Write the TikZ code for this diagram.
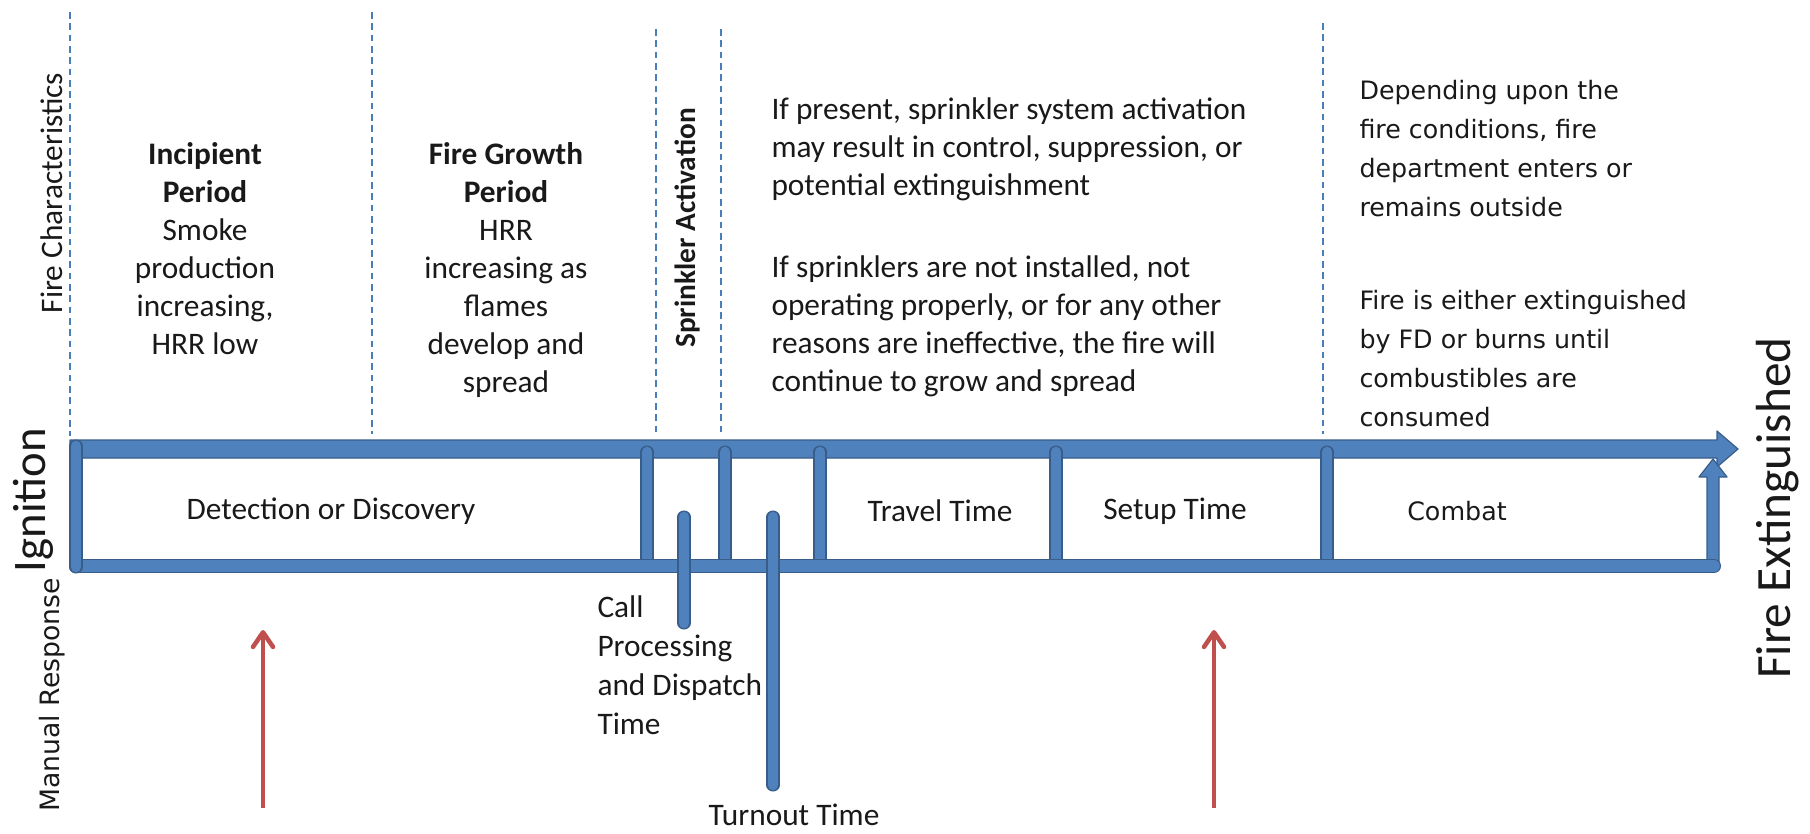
\documentclass[tikz,border=0pt]{standalone}
\usepackage{fontspec}
\setmainfont{Carlito}
\newfontfamily\verdana{DejaVu Sans}
\usetikzlibrary{arrows.meta}

\definecolor{barblue}{RGB}{79,129,189}
\definecolor{bardark}{RGB}{56,93,138}
\definecolor{guideblue}{RGB}{74,126,187}
\definecolor{markred}{RGB}{192,80,77}
\definecolor{ink}{RGB}{25,25,25}

\tikzset{every picture/.style={line width=0.75pt},
  bar/.style={draw=bardark, line width=0.9pt, double=barblue, double distance=#1, line cap=round},
  bar/.default=8pt,
  guide/.style={guideblue, line width=1.2pt, dash pattern=on 5pt off 3.5pt},
  redarrow/.style={markred, line width=3.4pt, -{Straight Barb[length=11pt,width=15pt,round]}},
  lbl/.style={inner sep=0pt, text=ink, font=\fontsize{23.5}{28.5}\selectfont},
  wide/.style={inner sep=0pt, text=ink, font=\verdana\fontsize{19}{29.2}\selectfont},
}

\begin{document}
\begin{tikzpicture}[x=0.75pt,y=0.75pt,yscale=-1,xscale=1]
\useasboundingbox (0,0) rectangle (1810,834);

%Dashed guides
\draw [guide] (70,12) -- (70,436) ;
\draw [guide] (372,12) -- (372,434) ;
\draw [guide] (656,29) -- (656,436) ;
\draw [guide] (721,29) -- (721,436) ;
\draw [guide] (1323,23) -- (1323,434) ;

%Shape: Block Arrow (time line)
\filldraw [fill=barblue, draw=bardark, line width=0.9pt, line join=round] (70,440) -- (1717,440) -- (1717,431) -- (1738,449) -- (1717,467) -- (1717,458) -- (70,458) -- cycle ;

%Straight Lines (interval marks)
\draw [bar] (647,452) -- (647,566) ;
\draw [bar] (725,452) -- (725,566) ;
\draw [bar] (820,452) -- (820,566) ;
\draw [bar] (1056,452) -- (1056,566) ;
\draw [bar] (1327,452) -- (1327,566) ;

%Shape: Up Arrow (end of combat)
\filldraw [fill=barblue, draw=bardark, line width=0.9pt, line join=round] (1707,568) -- (1707,477) -- (1699,477) -- (1713,459) -- (1727,477) -- (1719,477) -- (1719,568) -- cycle ;

%Straight Lines (response line)
\draw [bar=8.7pt] (76,566) -- (1714,566) ;
\draw [bar] (76,446) -- (76,567) ;

%Straight Lines (dispatch and turnout)
\draw [bar] (684,517) -- (684,623) ;
\draw [bar] (773,517) -- (773,785) ;

%Straight Lines (red pointers)
\draw [redarrow] (263,808) -- (263,630) ;
\draw [redarrow] (1214,808) -- (1214,630) ;

% Text Node
\draw (52,193) node [lbl, rotate=90] (firechar) {Fire Characteristics};
% Text Node
\draw (33,500) node [lbl, rotate=90, font=\fontsize{35}{40}\selectfont] (ignition) {Ignition};
% Text Node
\draw (52,695) node [wide, rotate=90, font=\verdana\fontsize{20}{24}\selectfont] (manual) {Manual Response};
% Text Node
\draw (687,228) node [lbl, rotate=90, font=\bfseries\fontsize{22}{26}\selectfont] (sprinkler) {Sprinkler Activation};
% Text Node
\draw (1778,508) node [lbl, rotate=90, font=\fontsize{37}{42}\selectfont] (extinguished) {Fire Extinguished};

% Text Node
\draw (205,142) node [lbl, anchor=north, align=center] (incipient) {\textbf{Incipient}\\\textbf{Period}\\Smoke\\production\\increasing,\\HRR low};
% Text Node
\draw (506,142) node [lbl, anchor=north, align=center] (growth) {\textbf{Fire Growth}\\\textbf{Period}\\HRR\\increasing as\\flames\\develop and\\spread};
% Text Node
\draw (771,97) node [lbl, anchor=north west, align=left] (sprkon) {If present, sprinkler system activation\\may result in control, suppression, or\\potential extinguishment};
% Text Node
\draw (771,255) node [lbl, anchor=north west, align=left] (sprkoff) {If sprinklers are not installed, not\\operating properly, or for any other\\reasons are ineffective, the fire will\\continue to grow and spread};
% Text Node
\draw (1359,80) node [wide, anchor=north west, align=left] (fdenter) {Depending upon the\\fire conditions, fire\\department enters or\\remains outside};
% Text Node
\draw (1359,290) node [wide, anchor=north west, align=left] (fdout) {Fire is either extinguished\\by FD or burns until\\combustibles are\\consumed};

% Text Node
\draw (331,511) node [lbl] (detect) {Detection or Discovery};
% Text Node
\draw (940,511) node [lbl] (travel) {Travel Time};
% Text Node
\draw (1175,511) node [lbl] (setup) {Setup Time};
% Text Node
\draw (1457,511) node [wide] (combat) {Combat};
% Text Node
\draw (597,595) node [lbl, anchor=north west, align=left, font=\fontsize{23.5}{29.2}\selectfont] (callproc) {Call\\Processing\\and Dispatch\\Time};
% Text Node
\draw (794,815) node [lbl] (turnout) {Turnout Time};

\end{tikzpicture}
\end{document}
